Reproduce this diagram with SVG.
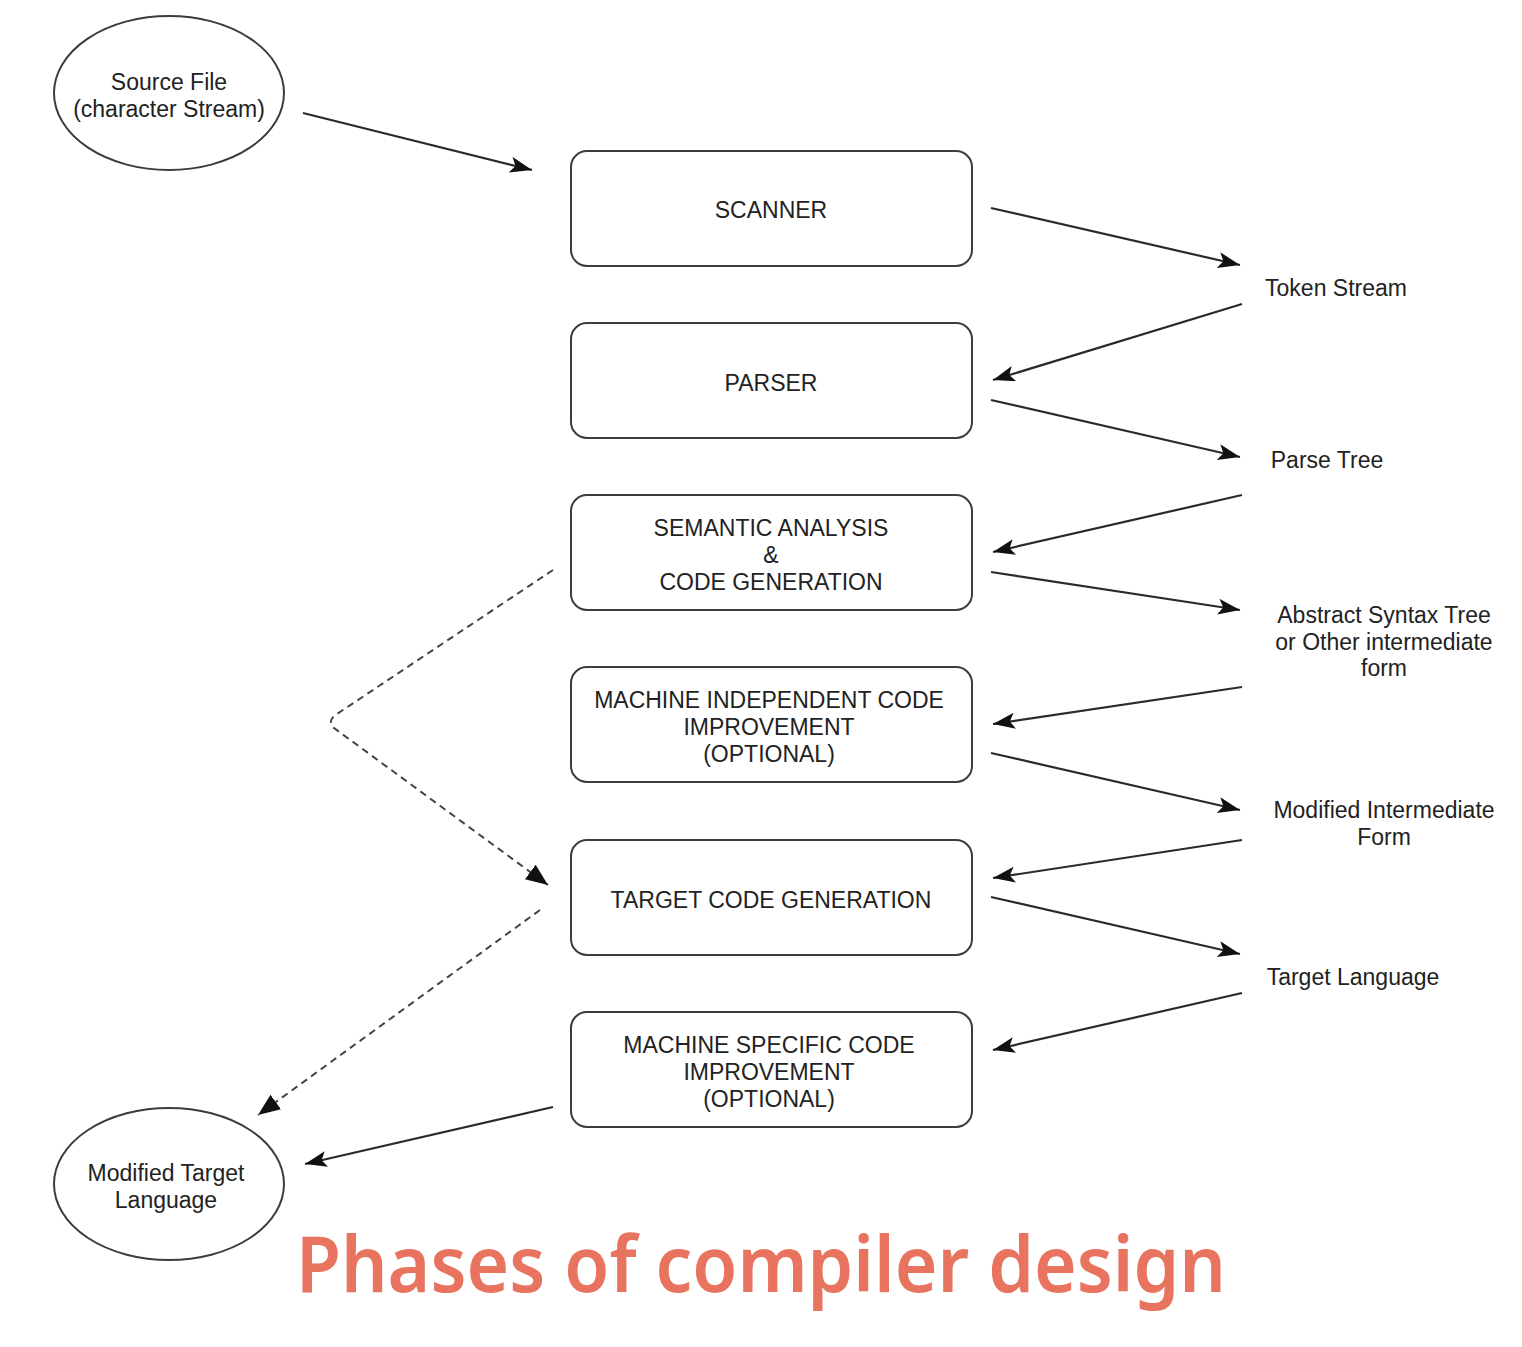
<svg xmlns="http://www.w3.org/2000/svg" width="1522" height="1347" viewBox="0 0 1522 1347">
<defs>
<style>
.node{fill:#fff;stroke:#3c3c3c;stroke-width:2}
.lbl{font-family:"Liberation Sans",Arial,sans-serif;font-size:23px;fill:#222;text-anchor:middle}
.con{fill:none;stroke:#2a2a2a;stroke-width:2.2}
.dash{fill:none;stroke:#444;stroke-width:2;stroke-dasharray:7 5}
.title{font-family:"Comic Sans MS","Noto Sans","Open Sans",sans-serif;font-size:78px;font-weight:600;fill:#e8735f}
</style>
<marker id="arr" markerUnits="userSpaceOnUse" markerWidth="24" markerHeight="18" refX="22" refY="8" orient="auto" viewBox="0 0 24 18">
<path d="M0,0 L22,8 L0,16 L5,8 z" fill="#111"/>
</marker>
<marker id="blk" markerUnits="userSpaceOnUse" markerWidth="24" markerHeight="20" refX="22" refY="9" orient="auto" viewBox="0 0 24 20">
<path d="M0,0 L22,9 L0,18 z" fill="#111"/>
</marker>
</defs>
<rect width="1522" height="1347" fill="#fff"/>

<g id="connectors">
<line class="con" x1="303" y1="113" x2="532" y2="170" marker-end="url(#arr)"/>
<line class="con" x1="991" y1="208" x2="1240" y2="265" marker-end="url(#arr)"/>
<line class="con" x1="1242" y1="304" x2="993" y2="380" marker-end="url(#arr)"/>
<line class="con" x1="991" y1="400" x2="1240" y2="457" marker-end="url(#arr)"/>
<line class="con" x1="1242" y1="495" x2="993" y2="552" marker-end="url(#arr)"/>
<line class="con" x1="991" y1="572" x2="1240" y2="610" marker-end="url(#arr)"/>
<line class="con" x1="1242" y1="687" x2="993" y2="724" marker-end="url(#arr)"/>
<line class="con" x1="991" y1="753" x2="1240" y2="810" marker-end="url(#arr)"/>
<line class="con" x1="1242" y1="840" x2="993" y2="878" marker-end="url(#arr)"/>
<line class="con" x1="991" y1="897" x2="1240" y2="954" marker-end="url(#arr)"/>
<line class="con" x1="1242" y1="993" x2="993" y2="1050" marker-end="url(#arr)"/>
<line class="con" x1="553" y1="1107" x2="305" y2="1164" marker-end="url(#arr)"/>
<path class="dash" d="M553,570 L334,716 Q328,722 334,728 L548,885" marker-end="url(#blk)"/>
<path class="dash" d="M540,910 L258,1115" marker-end="url(#blk)"/>
</g>

<g id="source-file">
<ellipse class="node" cx="169" cy="93" rx="115" ry="77"/>
<text class="lbl" x="169" y="90">Source File</text>
<text class="lbl" x="169" y="117">(character Stream)</text>
</g>

<g id="scanner">
<rect class="node" x="571" y="151" width="401" height="115" rx="16"/>
<text class="lbl" x="771" y="218">SCANNER</text>
</g>

<g id="parser">
<rect class="node" x="571" y="323" width="401" height="115" rx="16"/>
<text class="lbl" x="771" y="391">PARSER</text>
</g>

<g id="semantic">
<rect class="node" x="571" y="495" width="401" height="115" rx="16"/>
<text class="lbl" x="771" y="536">SEMANTIC ANALYSIS</text>
<text class="lbl" x="771" y="563">&amp;</text>
<text class="lbl" x="771" y="590">CODE GENERATION</text>
</g>

<g id="machine-independent">
<rect class="node" x="571" y="667" width="401" height="115" rx="16"/>
<text class="lbl" x="769" y="708">MACHINE INDEPENDENT CODE</text>
<text class="lbl" x="769" y="735">IMPROVEMENT</text>
<text class="lbl" x="769" y="762">(OPTIONAL)</text>
</g>

<g id="target-code">
<rect class="node" x="571" y="840" width="401" height="115" rx="16"/>
<text class="lbl" x="771" y="908">TARGET CODE GENERATION</text>
</g>

<g id="machine-specific">
<rect class="node" x="571" y="1012" width="401" height="115" rx="16"/>
<text class="lbl" x="769" y="1053">MACHINE SPECIFIC CODE</text>
<text class="lbl" x="769" y="1080">IMPROVEMENT</text>
<text class="lbl" x="769" y="1107">(OPTIONAL)</text>
</g>

<g id="modified-target">
<ellipse class="node" cx="169" cy="1184" rx="115" ry="76"/>
<text class="lbl" x="166" y="1181">Modified Target</text>
<text class="lbl" x="166" y="1208">Language</text>
</g>

<g id="token-stream">
<text class="lbl" x="1336" y="296">Token Stream</text>
</g>
<g id="parse-tree">
<text class="lbl" x="1327" y="468">Parse Tree</text>
</g>
<g id="ast">
<text class="lbl" x="1384" y="623">Abstract Syntax Tree</text>
<text class="lbl" x="1384" y="650">or Other intermediate</text>
<text class="lbl" x="1384" y="676">form</text>
</g>
<g id="modified-intermediate">
<text class="lbl" x="1384" y="818">Modified Intermediate</text>
<text class="lbl" x="1384" y="845">Form</text>
</g>
<g id="target-language">
<text class="lbl" x="1353" y="985">Target Language</text>
</g>

<text class="title" x="296" y="1292" textLength="930" lengthAdjust="spacingAndGlyphs">Phases of compiler design</text>
</svg>
